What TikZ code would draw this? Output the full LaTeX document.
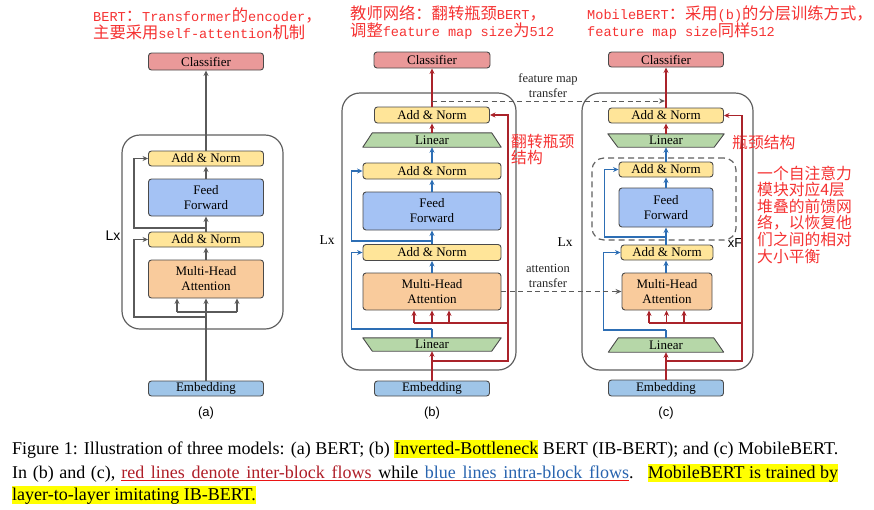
\documentclass[tikz,border=0pt]{standalone}
\usepackage{fontspec}
\setmainfont{Liberation Serif}
\setsansfont{Liberation Sans}
\newfontfamily\cjkf{Noto Sans CJK SC}
\newfontfamily\monof{Liberation Mono}
\usetikzlibrary{arrows.meta,backgrounds,calc}
\definecolor{clsfill}{HTML}{EA9999}
\definecolor{anfill}{HTML}{FFE599}
\definecolor{fffill}{HTML}{A4C2F4}
\definecolor{mhafill}{HTML}{F9CB9C}
\definecolor{linfill}{HTML}{B6D7A8}
\definecolor{embfill}{HTML}{9FC5E8}
\definecolor{boxborder}{HTML}{4A4A4A}
\definecolor{linegray}{HTML}{5A5A5A}
\definecolor{outergray}{HTML}{606060}
\definecolor{redline}{RGB}{170,35,42}
\definecolor{blueline}{RGB}{45,110,180}
\definecolor{annred}{RGB}{245,50,50}
\definecolor{capred}{RGB}{175,30,40}
\definecolor{capblue}{RGB}{40,100,175}
\definecolor{ulred}{RGB}{235,20,20}
\definecolor{hlyellow}{RGB}{255,255,0}
\newcommand\cj[1]{{\cjkf\fontsize{16.3}{17}\selectfont #1}}
\newcommand\hlbox[1]{{\setlength\fboxsep{0pt}\colorbox{hlyellow}{\rule[-4pt]{0pt}{18pt}#1}}}
\newcommand\ulw[2]{\setbox0\hbox{\textcolor{#1}{#2}}\rlap{\textcolor{ulred}{\rule[-3.2pt]{\wd0}{1.2pt}}}\box0}
\newcommand\uls{{\color{ulred}\leaders\hrule height -2pt depth 3.2pt\hskip 0.25em plus 0.25em minus 0.08em}}
\tikzset{
  box/.style={draw=boxborder, line width=0.9pt, rounded corners=3pt, inner sep=0pt,
    font=\fontsize{13}{15}\selectfont, align=center},
  clsbox/.style={box, fill=clsfill},
  anbox/.style={box, fill=anfill},
  ffbox/.style={box, fill=fffill},
  mhabox/.style={box, fill=mhafill},
  embbox/.style={box, fill=embfill},
  linnode/.style={inner sep=0pt, font=\fontsize{13}{15}\selectfont},
  linshape/.style={fill=linfill, draw=boxborder, line width=0.9pt, line join=round},
  outerbox/.style={draw=outergray, line width=1.2pt, rounded corners=18pt, inner sep=0pt},
  innerdash/.style={draw=outergray, line width=1.2pt, rounded corners=12pt, inner sep=0pt, dash pattern=on 6pt off 4pt},
  tip/.style={-{Stealth[length=5.5pt,width=5pt]}},
  gline/.style={draw=linegray, line width=1.4pt},
  garr/.style={gline, tip},
  rline/.style={draw=redline, line width=1.4pt},
  rarr/.style={rline, tip},
  bline/.style={draw=blueline, line width=1.4pt},
  barr/.style={bline, tip},
  xfer/.style={draw=linegray, line width=1pt, dash pattern=on 5pt off 3.5pt, -{Stealth[length=6pt,width=5pt]}},
  lbl/.style={font=\sffamily\fontsize{13}{15}\selectfont, inner sep=0pt},
  serlbl/.style={font=\fontsize{13.5}{15}\selectfont, inner sep=0pt},
  xlbl/.style={font=\fontsize{12.5}{15}\selectfont, align=center, inner sep=0pt, text=black!85},
  annot/.style={anchor=west, align=left, text=annred, inner sep=0pt, font=\monof\fontsize{13.6}{17}\selectfont},
  cjnote/.style={anchor=west, align=left, text=annred, inner sep=0pt, font=\cjkf\fontsize{15.8}{16.6}\selectfont},
  capline/.style={anchor=base west, inner sep=0pt, font=\fontsize{18}{23}\selectfont}
}
\begin{document}
\begin{tikzpicture}[x=1pt,y=-1pt]
\useasboundingbox (0,0) rectangle (874,509);

% ---------- annotations ----------
\node[annot] (t1) at (93,23.5) {BERT\cj{：}Transformer\cj{的}encoder\cj{，}\\\cj{主要采用}self-attention\cj{机制}};
\node[annot] (t2) at (350,22) {\cj{教师网络：翻转瓶颈}BERT\cj{，}\\\cj{调整}feature map size\cj{为}512};
\node[annot] (t3) at (587,22.5) {MobileBERT\cj{：采用}(b)\cj{的分层训练方式，}\\feature map size\cj{同样}512};

% ---------- (a) BERT ----------
\node[outerbox, minimum width=161, minimum height=194] (aBlk) at (202.5,232) {};
\node[clsbox, minimum width=115, minimum height=17] (aCls) at (206,61.5) {Classifier};
\node[anbox, minimum width=115, minimum height=15] (aAN2) at (206,158.5) {Add \& Norm};
\node[ffbox, minimum width=115, minimum height=37] (aFF) at (206,197.5) {Feed\\Forward};
\node[anbox, minimum width=115, minimum height=15] (aAN1) at (206,239.5) {Add \& Norm};
\node[mhabox, minimum width=115, minimum height=38] (aMHA) at (206,279) {Multi-Head\\Attention};
\node[embbox, minimum width=115, minimum height=15] (aEmb) at (206,388.5) {Embedding};
\node[lbl, font=\sffamily\fontsize{14}{15}\selectfont] (aLx) at (113,236) {Lx};
\node[lbl] (aCap) at (206,413) {(a)};

\coordinate (aQ) at (177,312);
\coordinate (aV) at (237,312);
\coordinate (aRes1) at (206,317);
\coordinate (aRes2) at (206,228);
\draw[garr] (aEmb.north) -- (aMHA.south);
\draw[gline] (aQ) -- (aV);
\draw[garr] (aQ) -- (aQ |- aMHA.south);
\draw[garr] (aV) -- (aV |- aMHA.south);
\draw[garr] (aRes1) -| ($(aAN1.west)+(-14,0)$) -- (aAN1.west);
\draw[garr] (aMHA.north) -- (aAN1.south);
\draw[garr] (aAN1.north) -- (aFF.south);
\draw[garr] (aRes2) -| ($(aAN2.west)+(-14,0)$) -- (aAN2.west);
\draw[garr] (aFF.north) -- (aAN2.south);
\draw[garr] (aAN2.north) -- (aCls.south);

% ---------- (b) IB-BERT ----------
\node[outerbox, minimum width=174, minimum height=277] (bBlk) at (429,231.5) {};
\node[clsbox, minimum width=116, minimum height=16] (bCls) at (432,60) {Classifier};
\node[anbox, minimum width=115, minimum height=16] (bAN3) at (432,115) {Add \& Norm};
\node[linnode, minimum width=138, minimum height=14] (bLinT) at (432,140) {Linear};
\node[anbox, minimum width=138, minimum height=16] (bAN2) at (432,171) {Add \& Norm};
\node[ffbox, minimum width=138, minimum height=38] (bFF) at (432,211) {Feed\\Forward};
\node[anbox, minimum width=138, minimum height=16] (bAN1) at (432,252.5) {Add \& Norm};
\node[mhabox, minimum width=138, minimum height=37] (bMHA) at (432,291.5) {Multi-Head\\Attention};
\node[linnode, minimum width=138, minimum height=13] (bLinB) at (432,344.5) {Linear};
\node[embbox, minimum width=115, minimum height=15] (bEmb) at (432,388.5) {Embedding};
\node[serlbl] (bLx) at (327,240) {Lx};
\node[lbl] (bCap) at (432,413) {(b)};
\node[cjnote] (bNote) at (511,149.5) {翻转瓶颈\\结构};

\begin{scope}[on background layer]
\draw[linshape] (bLinT.south west) -- (bLinT.south east) -- ($(bLinT.north east)+(-9.5,0)$) -- ($(bLinT.north west)+(9.5,0)$) -- cycle;
\draw[linshape] (bLinB.north west) -- (bLinB.north east) -- ($(bLinB.south east)+(-9.5,0)$) -- ($(bLinB.south west)+(9.5,0)$) -- cycle;
\end{scope}

\coordinate (bBr) at (432,361);
\coordinate (bQ) at (414,323);
\coordinate (bK) at (432,323);
\coordinate (bV) at (449,323);
\coordinate (bQr) at (507.5,323);
\coordinate (bLo) at (432,329);
\coordinate (bRes2) at (432,241);
\draw[rarr] (bEmb.north) -- (bLinB.south);
\draw[rarr] (bBr) -| ($(bAN3.east)+(18,0)$) -- (bAN3.east);
\draw[rline] (bQ) -- (bQr);
\draw[rarr] (bQ) -- (bQ |- bMHA.south);
\draw[rarr] (bK) -- (bK |- bMHA.south);
\draw[rarr] (bV) -- (bV |- bMHA.south);
\draw[bline] (bLinB.north) -- (bLo);
\draw[barr] (bLo) -| ($(bAN1.west)+(-11,0)$) -- (bAN1.west);
\draw[barr] (bMHA.north) -- (bAN1.south);
\draw[barr] (bAN1.north) -- (bFF.south);
\draw[barr] (bRes2) -| ($(bAN2.west)+(-11,0)$) -- (bAN2.west);
\draw[barr] (bFF.north) -- (bAN2.south);
\draw[barr] (bAN2.north) -- (bLinT.south);
\draw[rarr] (bLinT.north) -- (bAN3.south);
\draw[rarr] (bAN3.north) -- (bCls.south);

% ---------- (c) MobileBERT ----------
\node[outerbox, minimum width=171, minimum height=277] (cBlk) at (667.5,231.5) {};
\node[innerdash, minimum width=144, minimum height=82] (cStack) at (664,199) {};
\node[clsbox, minimum width=115, minimum height=15] (cCls) at (666,59.5) {Classifier};
\node[anbox, minimum width=115, minimum height=15] (cAN3) at (666,115.5) {Add \& Norm};
\node[linnode, minimum width=116, minimum height=13] (cLinT) at (666,140.5) {Linear};
\node[anbox, minimum width=94, minimum height=15] (cAN2) at (666,169.5) {Add \& Norm};
\node[ffbox, minimum width=94, minimum height=39] (cFF) at (666,207.5) {Feed\\Forward};
\node[anbox, minimum width=92, minimum height=15] (cAN1) at (667,252.5) {Add \& Norm};
\node[mhabox, minimum width=90, minimum height=37] (cMHA) at (667,291.5) {Multi-Head\\Attention};
\node[linnode, minimum width=115, minimum height=14] (cLinB) at (666,345) {Linear};
\node[embbox, minimum width=115, minimum height=16] (cEmb) at (666,388) {Embedding};
\node[serlbl] (cLx) at (565,242) {Lx};
\node[lbl] (cxF) at (735,243) {xF};
\node[lbl] (cCap) at (666,413) {(c)};
\node[cjnote] (cNote1) at (732,142) {瓶颈结构};
\node[cjnote] (cNote2) at (757,214.5) {一个自注意力\\模块对应4层\\堆叠的前馈网\\络，以恢复他\\们之间的相对\\大小平衡};

\begin{scope}[on background layer]
\draw[linshape] (cLinT.north west) -- (cLinT.north east) -- ($(cLinT.south east)+(-10,0)$) -- ($(cLinT.south west)+(10,0)$) -- cycle;
\draw[linshape] (cLinB.south west) -- (cLinB.south east) -- ($(cLinB.north east)+(-10,0)$) -- ($(cLinB.north west)+(10,0)$) -- cycle;
\end{scope}

\coordinate (cBr) at (666,361);
\coordinate (cQ) at (649,323);
\coordinate (cK) at (666.5,323);
\coordinate (cV) at (684,323);
\coordinate (cQr) at (741.5,323);
\coordinate (cLo) at (666,330);
\coordinate (cRes2) at (666,237);
\draw[rarr] (cEmb.north) -- (cLinB.south);
\draw[rarr] (cBr) -| ($(cAN3.east)+(18,0)$) -- (cAN3.east);
\draw[rline] (cQ) -- (cQr);
\draw[rarr] (cQ) -- (cQ |- cMHA.south);
\draw[rarr] (cK) -- (cK |- cMHA.south);
\draw[rarr] (cV) -- (cV |- cMHA.south);
\draw[bline] (cLinB.north) -- (cLo);
\draw[barr] (cLo) -| ($(cAN1.west)+(-17,0)$) -- (cAN1.west);
\draw[barr] (cMHA.north -| cLinT.south) -- (cAN1.south -| cLinT.south);
\draw[barr] (cAN1.north -| cLinT.south) -- (cFF.south);
\draw[barr] (cRes2) -| ($(cAN2.west)+(-14,0)$) -- (cAN2.west);
\draw[barr] (cFF.north) -- (cAN2.south);
\draw[barr] (cAN2.north) -- (cLinT.south);
\draw[rarr] (cLinT.north) -- (cAN3.south);
\draw[rarr] (cAN3.north) -- (cCls.south);

% ---------- transfers ----------
\coordinate (bFM) at (432,101);
\coordinate (cFM) at (665,101);
\draw[xfer] (bFM) -- (cFM);
\draw[xfer] (bMHA.east) -- (cMHA.west);
\node[xlbl] (fmLbl) at (548,85.5) {feature map\\transfer};
\node[xlbl] (atLbl) at (548,275.5) {attention\\transfer};

% ---------- caption ----------
\node[capline] (cap1) at (12,454) {\hbox to 826pt{Figure 1: Illustration of three models: (a) BERT; (b) \hlbox{Inverted-Bottleneck} BERT (IB-BERT); and (c) MobileBERT.}};
\node[capline] (cap2) at (12,478) {\hbox to 826pt{In (b) and (c), \ulw{capred}{red}\uls\ulw{capred}{lines}\uls\ulw{capred}{denote}\uls\ulw{capred}{inter-block}\uls\ulw{capred}{flows}\uls\ulw{black}{while}\uls\ulw{capblue}{blue}\uls\ulw{capblue}{lines}\uls\ulw{capblue}{intra-block}\uls\ulw{capblue}{flows}.\hskip 0.6em plus 0.4em minus 0.1em\hlbox{MobileBERT is trained by}}};
\node[capline] (cap3) at (12,500) {\hlbox{layer-to-layer imitating IB-BERT.}};
\end{tikzpicture}
\end{document}
